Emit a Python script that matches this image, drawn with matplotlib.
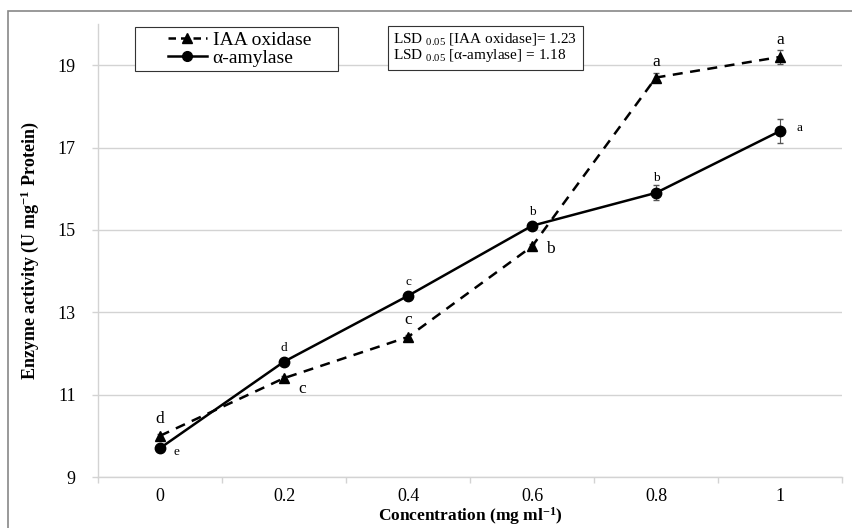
import matplotlib
matplotlib.use('Agg')
import matplotlib.pyplot as plt
from matplotlib.patches import Rectangle
from matplotlib.lines import Line2D
import numpy as np

plt.rcParams['font.family'] = ['Liberation Serif', 'DejaVu Serif']
plt.rcParams['mathtext.fontset'] = 'custom'
plt.rcParams['mathtext.rm'] = 'Liberation Serif'
plt.rcParams['mathtext.bf'] = 'Liberation Serif:bold'
plt.rcParams['mathtext.it'] = 'Liberation Serif:italic'

# data
conc = ['0', '0.2', '0.4', '0.6', '0.8', '1']
iaa = [10.0, 11.4, 12.4, 14.6, 18.7, 19.2]
iaa_err = [0.05, 0.05, 0.05, 0.05, 0.12, 0.17]
amy = [9.7, 11.8, 13.4, 15.1, 15.9, 17.4]
amy_err = [0.05, 0.05, 0.05, 0.05, 0.18, 0.3]
iaa_letters = ['d', 'c', 'c', 'b', 'a', 'a']
amy_letters = ['e', 'd', 'c', 'b', 'b', 'a']

# label offsets in points (dx, dy)
iaa_off = [(0, 12), (13, -8), (0, 12), (13, -2), (0, 11), (0, 12)]
amy_off = [(12, -3), (0, 10), (0, 10), (0, 10), (0, 11), (14, 2)]

x = np.arange(len(conc))

fig = plt.figure(figsize=(8.52, 5.28), dpi=100)
ax = fig.add_axes([98/852, 1-477/528, 744/852, 453/528])

grid_c = '#d3d3d3'
ax.errorbar(x, iaa, yerr=iaa_err, color='black', ls=(0, (4, 3)), lw=1.8,
            marker='^', ms=7, capsize=2.5, ecolor='#555555', elinewidth=0.8,
            label='IAA oxidase', zorder=3)
ax.errorbar(x, amy, yerr=amy_err, color='black', ls='-', lw=1.8,
            marker='o', ms=7.5, capsize=2.5, ecolor='#555555', elinewidth=0.8,
            label='α-amylase', zorder=3)

for i in range(len(x)):
    ax.annotate(iaa_letters[i], (x[i], iaa[i]), xytext=iaa_off[i],
                textcoords='offset points', ha='center', va='center', fontsize=12.5)
    ax.annotate(amy_letters[i], (x[i], amy[i]), xytext=amy_off[i],
                textcoords='offset points', ha='center', va='center', fontsize=9.5)

ax.set_xlim(-0.5, len(conc) - 0.5)
ax.set_ylim(9, 20)
ax.set_yticks([9, 11, 13, 15, 17, 19])
ax.set_xticks(x)
ax.set_xticklabels(conc)
ax.set_xticks(np.arange(-0.5, len(conc), 1), minor=True)
ax.tick_params(axis='x', which='major', length=0, pad=8, labelsize=13)
ax.tick_params(axis='x', which='minor', length=4, color=grid_c, width=1)
ax.tick_params(axis='y', length=4, color=grid_c, width=1, pad=12, labelsize=13)
ax.grid(axis='y', color=grid_c, lw=1)
ax.set_axisbelow(True)
for s in ['top', 'right']:
    ax.spines[s].set_visible(False)
for s in ['left', 'bottom']:
    ax.spines[s].set_color(grid_c)
    ax.spines[s].set_linewidth(1)

fig.text(470/852, 1/528, 'Concentration (mg ml$^{\\mathbf{-1}}$)', fontweight='bold',
         fontsize=12.5, ha='center', va='bottom')
ax.set_ylabel('Enzyme activity (U mg$^{\\mathbf{-1}}$ Protein)', fontweight='bold',
              fontsize=13, labelpad=12)

# legend box drawn separately to match its wide frame
ax.add_patch(Rectangle((37/744, 406/453), 203/744, 44/453, transform=ax.transAxes,
                       fc='white', ec='#333333', lw=0.8, zorder=4))
handles = [Line2D([], [], color='black', ls=(0, (3, 2)), lw=1.8, marker='^', ms=7),
           Line2D([], [], color='black', ls='-', lw=1.8, marker='o', ms=7)]
leg = ax.legend(handles, ['IAA oxidase', 'α-amylase'], loc='center left',
                bbox_to_anchor=(70/744, 428/453), borderaxespad=0, frameon=False,
                fontsize=14, handlelength=2.0, handletextpad=0.3,
                labelspacing=0.05, borderpad=0, numpoints=1)
leg.set_zorder(5)

lsd_text = ('LSD $_{\\mathrm{0.05}}$ [IAA oxidase]= 1.23\n'
            'LSD $_{\\mathrm{0.05}}$ [α-amylase] = 1.18')
ax.text(0.397, 0.985, lsd_text, transform=ax.transAxes, ha='left', va='top',
        fontsize=11, linespacing=1.05, zorder=5,
        bbox=dict(boxstyle='square,pad=0.35', fc='white', ec='#333333', lw=0.8))

fig.patches.append(Rectangle((8/852, -0.1), 1.2, 1 - 11/528 + 0.1,
                             transform=fig.transFigure, fill=False,
                             ec='#888888', lw=1.2))

fig.savefig('out.png', dpi=100)
